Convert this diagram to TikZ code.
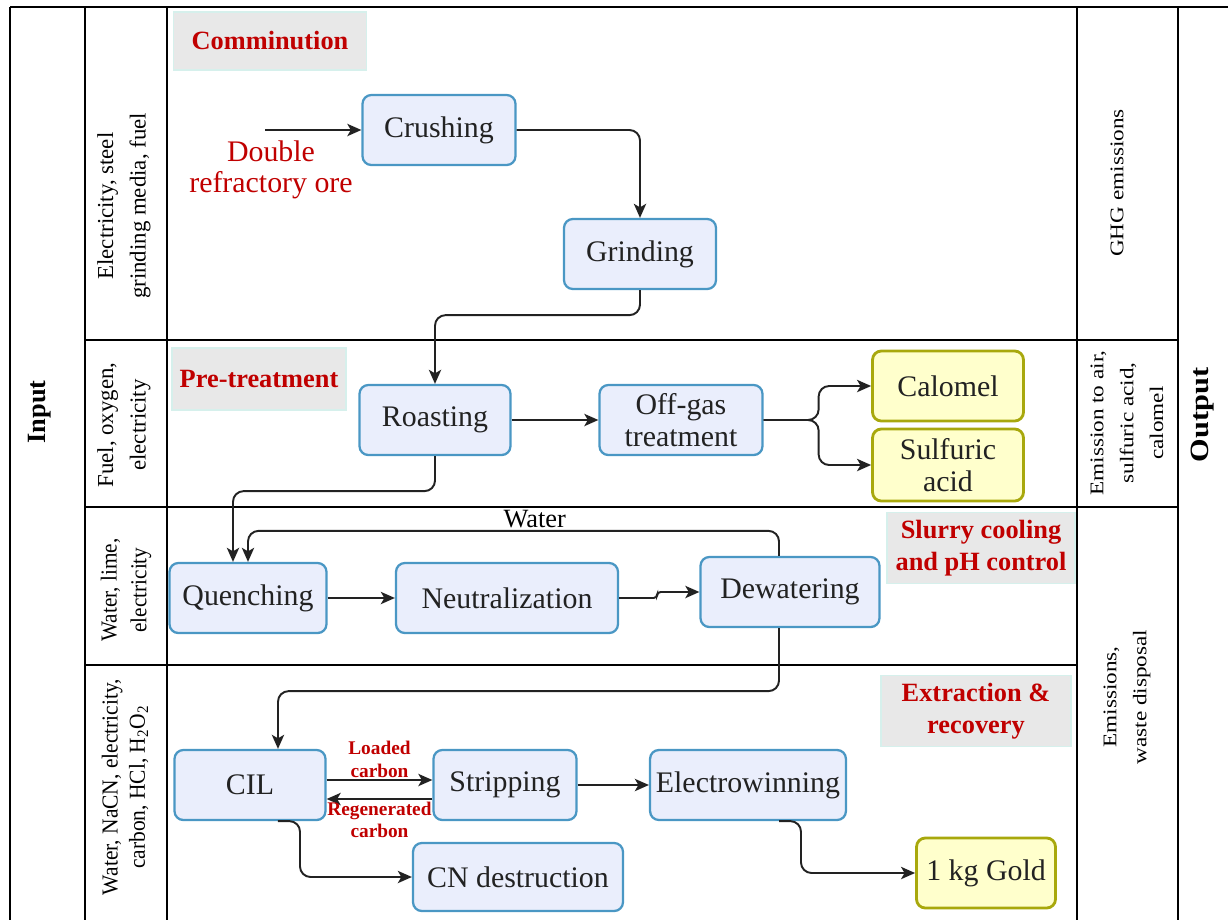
\documentclass[tikz,border=0pt]{standalone}
\usepackage{fontspec}
\setmainfont{Liberation Serif}
\usepackage{xcolor}
\usetikzlibrary{positioning,arrows.meta,calc}

\definecolor{procfill}{HTML}{EAEEFC}
\definecolor{procline}{HTML}{4A97C4}
\definecolor{prodfill}{HTML}{FFFFCC}
\definecolor{prodline}{HTML}{A8A80C}
\definecolor{secfill}{HTML}{E8E8E8}
\definecolor{secline}{HTML}{D6F0EC}
\definecolor{darkred}{HTML}{C00000}
\definecolor{ink}{HTML}{222222}
\newcommand{\fs}[2]{\fontsize{#1}{#2}\selectfont}

\begin{document}
\begin{tikzpicture}[x=0.02cm,y=-0.02cm,>={Stealth[length=8pt,width=7pt,inset=2pt]},
  proc/.style={draw=procline,fill=procfill,line width=1.3pt,rounded corners=5pt,minimum height=1.4cm,align=center,font=\fs{17}{18},text=ink},
  prod/.style={proc,draw=prodline,fill=prodfill,line width=1.6pt},
  sec/.style={draw=secline,fill=secfill,line width=0.6pt,text=darkred,font=\bfseries\fs{15}{18},align=center,inner sep=0pt},
  side/.style={rotate=90,xscale=#1,align=center,font=\fs{13}{16}},
  outside/.style={rotate=90,xscale=1.2,align=center,font=\fs{11}{17}},
  grid/.style={line width=1.2pt},
  flow/.style={->,draw=ink,line width=1.1pt,rounded corners=6pt},
  lbl/.style={text=darkred,font=\bfseries\fs{11}{13},align=center,inner sep=1pt}]
\useasboundingbox (0,0) rectangle (1228,920);

\draw[grid] (10,7) -- (1228,7);
\foreach \x in {85,167,1077} \draw[grid] (\x,7) -- (\x,920);
\foreach \x in {10,1178} \draw[grid,line width=1.6pt] (\x,7) -- (\x,920);
\draw[grid] (85,340) -- (1178,340);
\draw[grid] (85,507) -- (1178,507);
\draw[grid] (85,665) -- (1077,665);

\node[rotate=90,font=\bfseries\fs{15}{18}] (inp) at (40,412) {Input};
\node[side=1,font=\fs{13}{18.5}] (in1) at (124,206) {Electricity, steel\\grinding media, fuel};
\node[side=1,font=\fs{13}{18.5}] (in2) at (124,425) {Fuel, oxygen,\\electricity};
\node[side=0.93,font=\fs{13}{17}] (in3) at (126,590) {Water, lime,\\electricity};
\node[side=0.94,font=\fs{13}{15.5}] (in4) at (125,787) {Water, NaCN, electricity,\\carbon, HCl, H\textsubscript{2}O\textsubscript{2}};
\node[outside] (out1) at (1117,183) {GHG emissions};
\node[outside] (out2) at (1127,423) {Emission to air,\\sulfuric acid,\\calomel};
\node[outside] (out3) at (1127,697) {Emissions,\\waste disposal};
\node[rotate=90,xscale=1.15,font=\bfseries\fs{15}{18}] (outp) at (1203,415) {Output};

\node[sec,minimum width=3.86cm,minimum height=1.16cm] (s1) at (270,41) {Comminution};
\node[sec,minimum width=3.48cm,minimum height=1.24cm] (s2) at (259,379) {Pre-treatment};
\node[sec,minimum width=3.76cm,minimum height=1.42cm] (s3) at (981,548) {Slurry cooling\\and pH control};
\node[sec,minimum width=3.8cm,minimum height=1.42cm] (s4) at (976,711) {Extraction \&\\recovery};

\node[proc,minimum width=3.06cm] (cru) at (439,130) {Crushing};
\node[proc,minimum width=3.04cm] (gri) at (640,254) {Grinding};
\node[proc,minimum width=3.02cm] (roa) at (435,420) {Roasting};
\node[proc,minimum width=3.26cm] (off) at (681,420) {Off-gas\\treatment};
\node[prod,minimum width=3.02cm] (cal) at (948,386) {Calomel};
\node[prod,minimum width=3.02cm,minimum height=1.44cm] (sul) at (948,465) {Sulfuric\\acid};
\node[proc,minimum width=3.14cm] (que) at (248,598) {Quenching};
\node[proc,minimum width=4.44cm] (neu) at (507,598) {Neutralization};
\node[proc,minimum width=3.58cm] (dew) at (790,592) {Dewatering};
\node[proc,minimum width=3.02cm] (cil) at (250,785) {CIL};
\node[proc,minimum width=2.86cm] (str) at (505,785) {Stripping};
\node[proc,minimum width=3.64cm] (ele) at (748,785) {Electrowinning};
\node[proc,minimum width=4.2cm,minimum height=1.36cm] (cnd) at (518,877) {CN destruction};
\node[prod,minimum width=2.78cm] (gold) at (986,873) {1 kg Gold};

\coordinate (ore) at (265,130);
\node[text=darkred,font=\fs{17}{17.6},align=center] (orelbl) at (271,170) {Double\\refractory ore};
\draw[flow] (ore) -- (cru);
\draw[flow] (cru) -| (gri);
\draw[flow] (gri.south) -- ++(0,25) -| (roa.north);
\draw[flow] (roa) -- (off);
\draw[flow] (off.east) -- ++(55,0) |- (cal.west);
\draw[flow] (off.east) -- ++(55,0) |- (sul.west);
\draw[flow] (roa.south) -- ++(0,35) -| ([xshift=-0.3cm]que.north);
\draw[flow] ([xshift=-0.22cm]dew.north) -- ++(0,-25) coordinate (wtr)
  -- node[pos=0.46,above,inner sep=1pt,font=\fs{15}{18}] {Water} (wtr -| que.north) -- (que.north);
\draw[flow] (que) -- (neu);
\draw[flow,rounded corners=2pt] (neu.east) -- ++(38,0) -- ++(0,-6) -- (dew.west);
\draw[flow] ([xshift=-0.22cm]dew.south) -- ++(0,63) -| ([xshift=0.56cm]cil.north);
\draw[flow] ([yshift=0.1cm]cil.east) -- node[above,lbl] {Loaded\\carbon} ([yshift=0.1cm]str.west);
\draw[flow] ([yshift=-0.28cm]str.west) -- node[below,lbl] {Regenerated\\carbon} ([yshift=-0.28cm]cil.east);
\draw[flow] (str) -- (ele);
\draw[flow] ([xshift=0.56cm]cil.south) -- ++(22,0) |- (cnd.west);
\draw[flow] ([xshift=0.62cm]ele.south) -- ++(22,0) |- (gold.west);
\end{tikzpicture}
\end{document}
